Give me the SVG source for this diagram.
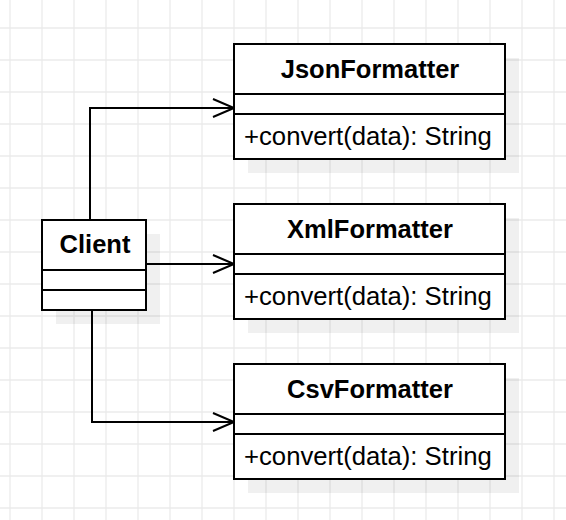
<svg xmlns="http://www.w3.org/2000/svg" width="566" height="520" viewBox="0 0 566 520">
<defs>
<style>
.grid{stroke:#ebebeb;stroke-width:1.3;fill:none}
.shadow{fill:#000;fill-opacity:0.06}
.box{fill:#fff;stroke:#000;stroke-width:2}
.div{stroke:#000;stroke-width:2}
.title{font-family:"Liberation Sans",Arial,sans-serif;font-weight:bold;font-size:25.5px;text-anchor:middle;fill:#000}
.meth{font-family:"Liberation Sans",Arial,sans-serif;font-size:25.7px;fill:#000}
.conn{fill:none;stroke:#000;stroke-width:2;marker-end:url(#arr)}
</style>
<marker id="arr" markerUnits="userSpaceOnUse" markerWidth="24" markerHeight="20" viewBox="0 0 24 20" refX="22" refY="10" orient="auto">
<path d="M1,1 L22,10 L1,19" fill="none" stroke="#000" stroke-width="2"/>
</marker>
</defs>
<rect width="566" height="520" fill="#fff"/>
<path class="grid" d="M10,0V520M42,0V520M74,0V520M106,0V520M138,0V520M170,0V520M202,0V520M234,0V520M266,0V520M298,0V520M330,0V520M362,0V520M394,0V520M426,0V520M458,0V520M490,0V520M522,0V520M554,0V520M0,28H566M0,60H566M0,92H566M0,124H566M0,156H566M0,188H566M0,220H566M0,252H566M0,284H566M0,316H566M0,348H566M0,380H566M0,412H566M0,444H566M0,476H566M0,508H566"/>
<g id="connectors">
<path class="conn" d="M90,220V108H234"/>
<path class="conn" d="M146,264H234"/>
<path class="conn" d="M92,310V422H234"/>
</g>
<g id="client">
<rect class="shadow" x="56" y="234" width="104" height="90"/>
<rect class="box" x="42" y="220" width="104" height="90"/>
<line class="div" x1="42" y1="270" x2="146" y2="270"/>
<line class="div" x1="42" y1="290" x2="146" y2="290"/>
<text class="title" x="95" y="253">Client</text>
</g>
<g id="jsonFormatter">
<rect class="shadow" x="248" y="58" width="271" height="115"/>
<rect class="box" x="234" y="44" width="271" height="115"/>
<line class="div" x1="234" y1="94" x2="505" y2="94"/>
<line class="div" x1="234" y1="114" x2="505" y2="114"/>
<text class="title" x="370" y="78">JsonFormatter</text>
<text class="meth" x="244" y="145">+convert(data): String</text>
</g>
<g id="xmlFormatter">
<rect class="shadow" x="248" y="218" width="271" height="115"/>
<rect class="box" x="234" y="204" width="271" height="115"/>
<line class="div" x1="234" y1="254" x2="505" y2="254"/>
<line class="div" x1="234" y1="274" x2="505" y2="274"/>
<text class="title" x="370" y="238">XmlFormatter</text>
<text class="meth" x="244" y="305">+convert(data): String</text>
</g>
<g id="csvFormatter">
<rect class="shadow" x="248" y="378" width="271" height="115"/>
<rect class="box" x="234" y="364" width="271" height="115"/>
<line class="div" x1="234" y1="414" x2="505" y2="414"/>
<line class="div" x1="234" y1="434" x2="505" y2="434"/>
<text class="title" x="370" y="398">CsvFormatter</text>
<text class="meth" x="244" y="465">+convert(data): String</text>
</g>
</svg>
